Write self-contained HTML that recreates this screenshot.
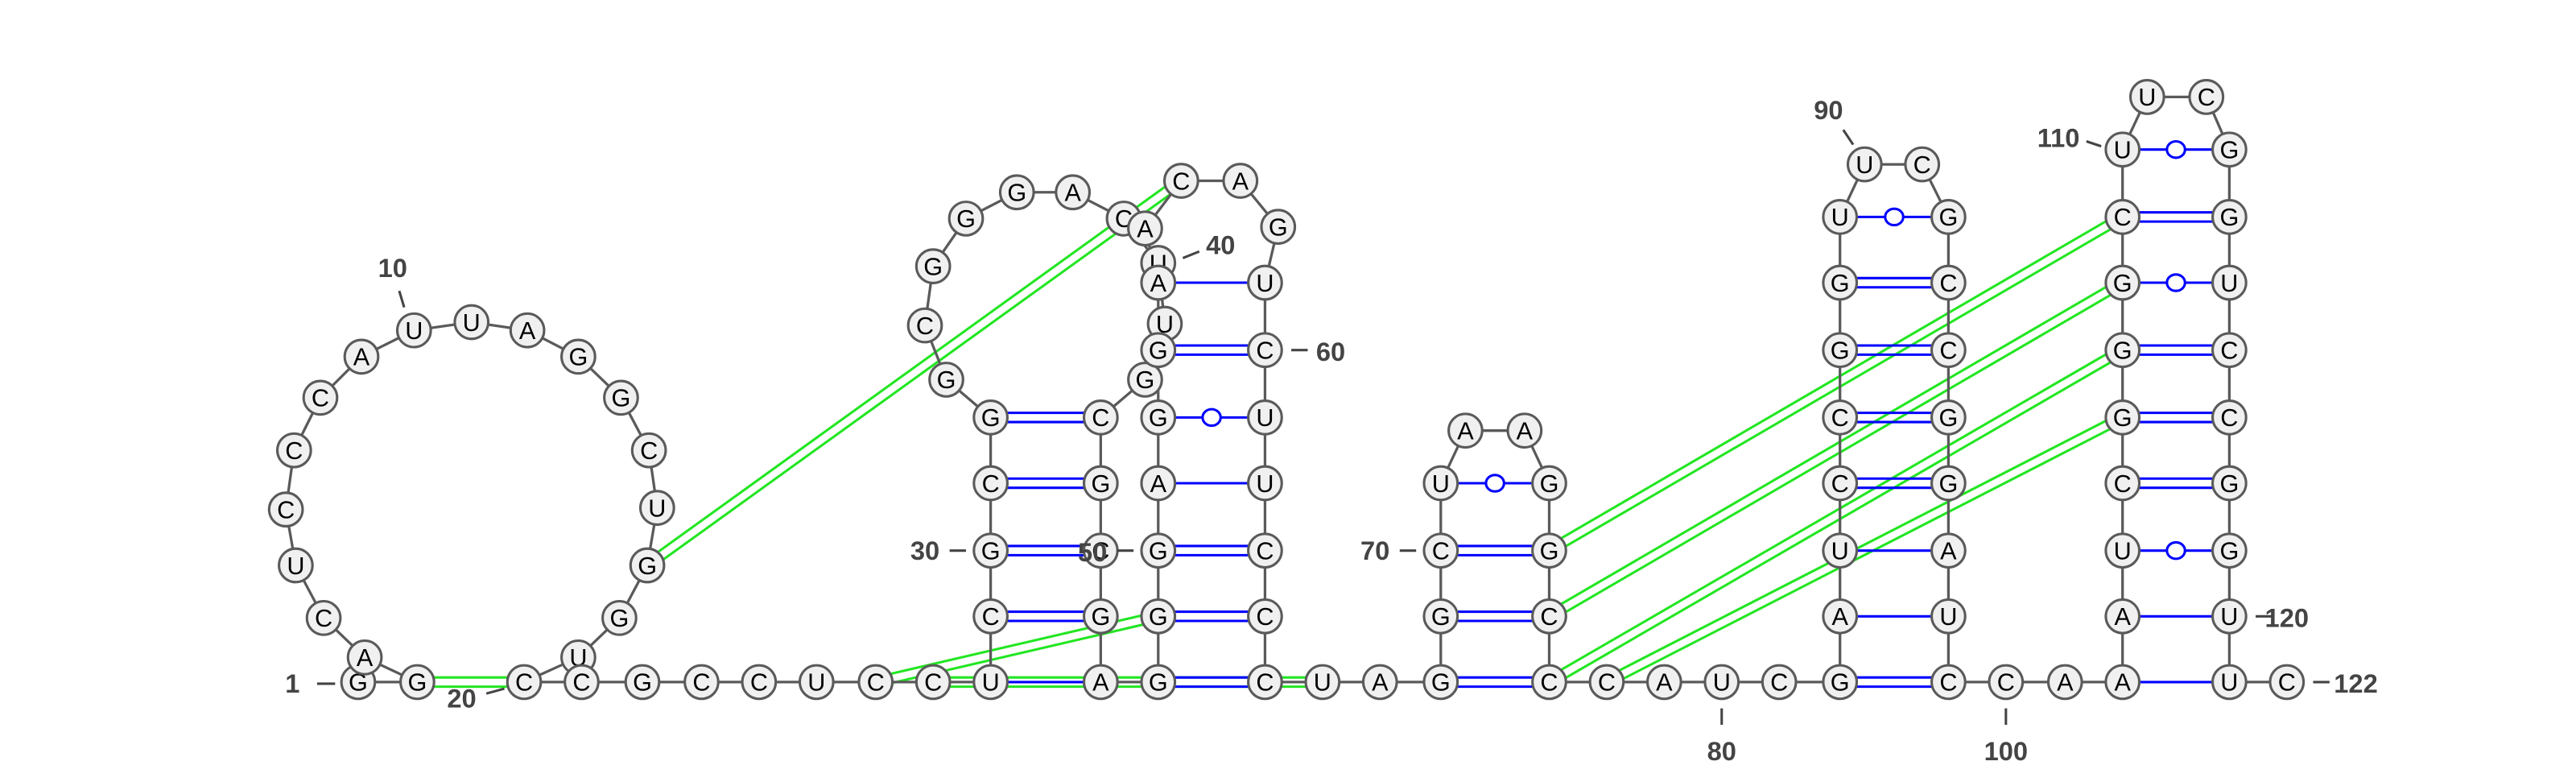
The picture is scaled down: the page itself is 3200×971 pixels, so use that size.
<!DOCTYPE html>
<html><head><meta charset="utf-8"><style>
html,body{margin:0;padding:0;background:#fff;}
svg{display:block;}
text{font-family:"Liberation Sans","DejaVu Sans",sans-serif;}
</style></head><body>
<svg id="chart" width="3200" height="971" viewBox="0 0 1568 475.8" xmlns="http://www.w3.org/2000/svg">
<g id="gGreen"></g><g id="gBack"></g><g id="gBlue"></g><g id="gNuc"></g><g id="gLab"></g>
</svg>
<script>
const bases = ("GGACUCCCAU" + "UAGGCUGGUC" + "CGCCUCCUCG" + "CGGCGGGACU" + "UGCGCGAGGG" +
               "AGGAACAGUC" + "UUCCCUAGGC" + "UAAGGCCCAU" + "CGAUCCGGUU" + "CGCCGGAUCC" +
               "AAAUCGGGCU" + "UCGGUCCGGU" + "UC").split('');
const xs = [218,254,222,197,180,174,179,195,220,252,287,321,352,378,395,400,394,377,352,319,354,391,427,462,497,533,568,603,603,603,603,603,576,563,568,588,619,653,684,705,709,697,670,670,670,670,670,705,705,705,705,705,705,705,697,719,755,778,770,770,770,770,770,770,770,805,840,877,877,877,877,892,928,943,943,943,943,978,1013,1048,1083,1120,1120,1120,1120,1120,1120,1120,1120,1135,1170,1186,1186,1186,1186,1186,1186,1186,1186,1221,1257,1292,1292,1292,1292,1292,1292,1292,1292,1292,1307,1343,1357,1357,1357,1357,1357,1357,1357,1357,1357,1392];
const ys = [415,415,400,376,344,310,274,242,217,201,196,201,217,242,274,309,344,376,400,415,415,415,415,415,415,415,415,415,375,335,294,254,231,198,162,133,117,117,133,160,197,231,254,294,335,375,415,415,375,335,294,254,213,172,139,110,110,138,172,213,254,294,335,375,415,415,415,415,375,335,294,262,262,294,335,375,415,415,415,415,415,415,375,335,294,254,213,172,132,100,100,132,172,213,254,294,335,375,415,415,415,415,375,335,294,254,213,172,132,91,59,59,91,132,172,213,254,294,335,375,415,415];
const pairI = [29,30,31,32,28,48,49,50,51,52,53,54,68,69,70,71,82,83,84,85,86,87,88,89,102,103,104,105,106,107,108,109,110];
const pairJ = [46,45,44,43,47,65,64,63,62,61,60,59,77,76,75,74,99,98,97,96,95,94,93,92,121,120,119,118,117,116,115,114,113];
const pairT = [2,2,2,2,1,2,2,2,1,0,2,1,2,2,2,0,2,1,1,2,2,2,2,0,1,1,0,2,2,2,0,2,0];
const pkI = [2,17,26,27,75,76,77,78];
const pkJ = [20,56,49,66,109,108,107,106];
const labelNums = [1,10,20,30,40,50,60,70,80,90,100,110,120,122];
const labelTx = [178,239,281,563,743,665,810,837,1048,1113,1221,1253,1392,1434];
const labelTy = [416,163,425,335,149,336,214,335,457,67,457,84,376,416];
const tickA = [[193,416,204,416],[243,177,246,187],[296,422,307,419],[578,335,588,335],[720,157,730,153],[680,335,690,335],[786,213,796,213],[852,335,862,335],[1048,431,1048,441],[1122,79,1128,88],[1221,431,1221,441],[1270,86,1279,89],[1373,375,1383,375],[1408,415,1418,415]];
const NS="http://www.w3.org/2000/svg";
const N = xs.length;
function mk(parent,tag,attrs){const e=document.createElementNS(NS,tag);for(const k in attrs)e.setAttribute(k,attrs[k]);document.getElementById(parent).appendChild(e);return e;}
function X(n){return xs[n-1];} function Y(n){return ys[n-1];}
function dbl(parent,x1,y1,x2,y2,off,color,name){
  const dx=x2-x1,dy=y2-y1,L=Math.hypot(dx,dy),nx=-dy/L*off,ny=dx/L*off;
  for(const s of [1,-1]){const l=mk(parent,'line',{x1:x1+nx*s,y1:y1+ny*s,x2:x2+nx*s,y2:y2+ny*s,stroke:color,'stroke-width':1.5});
  
  }
}
for(let n=1;n<N;n++){
  const l=mk('gBack','line',{x1:X(n),y1:Y(n),x2:X(n+1),y2:Y(n+1),stroke:'#5a5a5a','stroke-width':1.6});
  
  
}
for(let k=0;k<pkI.length;k++){
  let x2=X(pkJ[k]),y2=Y(pkJ[k]);
  if(pkJ[k]===66){x2-=6;}
  dbl('gGreen',X(pkI[k]),Y(pkI[k]),x2,y2,2.8,'#22e622','pseudoknot-pair');
}
for(let k=0;k<pairI.length;k++){
  const a=pairI[k],b=pairJ[k],x1=X(a),y1=Y(a),x2=X(b),y2=Y(b);
  if(pairT[k]===2){dbl('gBlue',x1,y1,x2,y2,2.8,'#0000ff','base-pair');}
  else{
    const l=mk('gBlue','line',{x1:x1,y1:y1,x2:x2,y2:y2,stroke:'#0000ff','stroke-width':1.5});
    
    
    if(pairT[k]===0){
      const c=mk('gBlue','ellipse',{cx:(x1+x2)/2,cy:(y1+y2)/2,rx:5.5,ry:5,fill:'#fff',stroke:'#0000ff','stroke-width':1.5});
      
      
    }
  }
}
for(let n=1;n<=N;n++){
  const c=mk('gNuc','circle',{cx:X(n),cy:Y(n),r:10.2,fill:'#f0f0f0',stroke:'#5a5a5a','stroke-width':1.5});
  
  
  const t=mk('gNuc','text',{x:X(n),y:Y(n)+5.3,'text-anchor':'middle','font-size':15,fill:'#000'});
  t.textContent=bases[n-1]||'';
  
  
}
for(let k=0;k<labelNums.length;k++){
  const tk=tickA[k];
  const l=mk('gLab','line',{x1:tk[0],y1:tk[1],x2:tk[2],y2:tk[3],stroke:'#444','stroke-width':1.5});
  
  
  const t=mk('gLab','text',{x:labelTx[k],y:labelTy[k]+5.5,'text-anchor':'middle','font-size':16,'font-weight':'bold',fill:'#444'});
  t.textContent=String(labelNums[k]);
  
  
}
</script>
</body></html>
